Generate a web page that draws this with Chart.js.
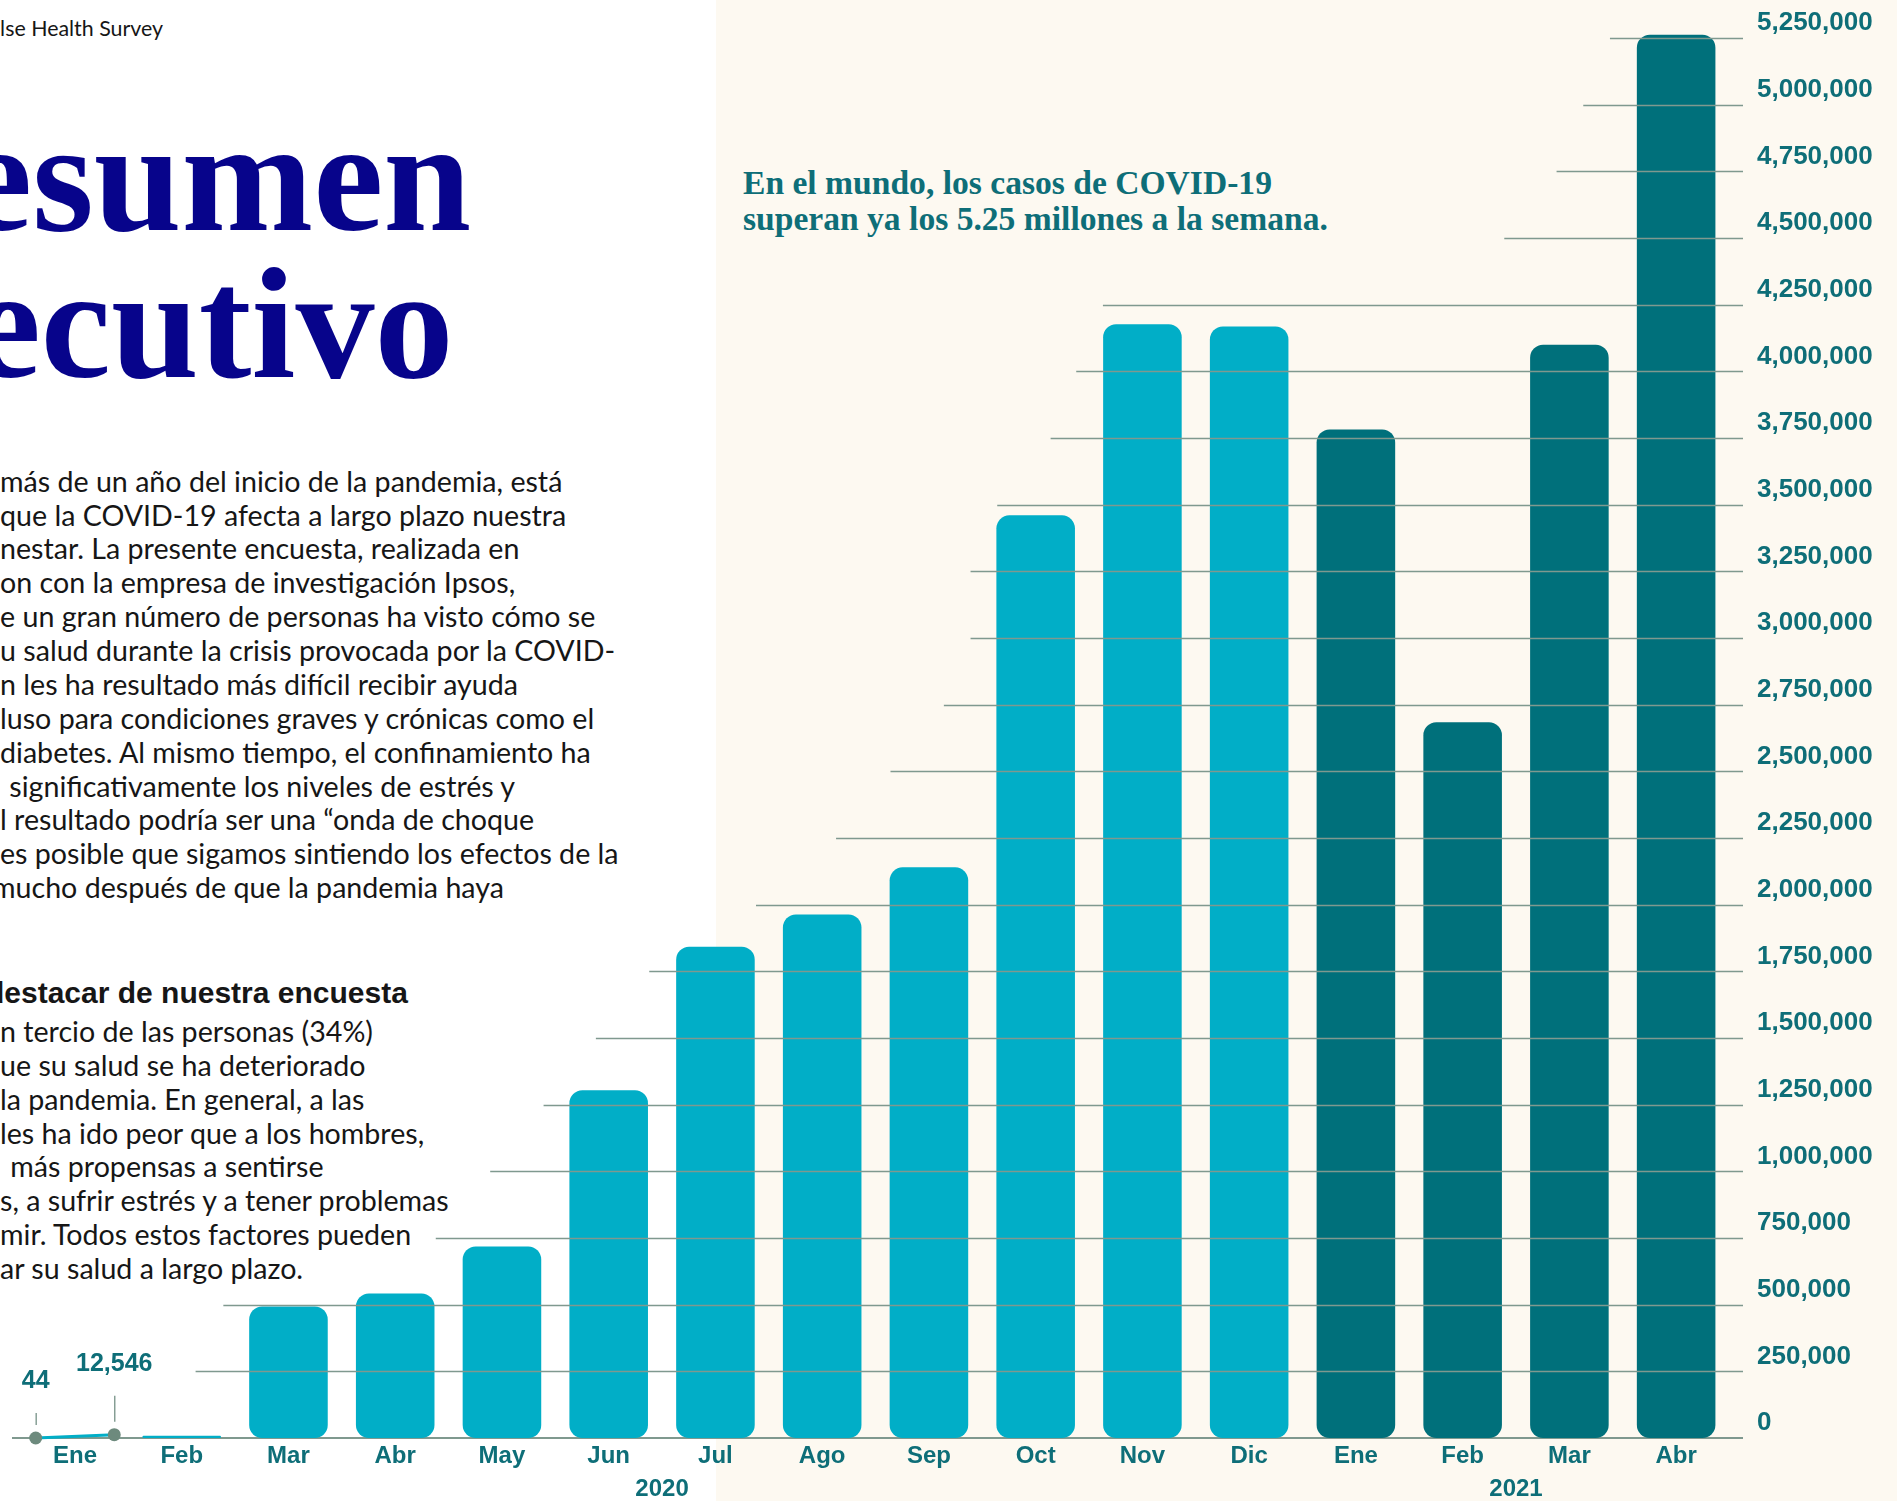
<!DOCTYPE html>
<html><head><meta charset="utf-8">
<script src="https://cdn.jsdelivr.net/npm/chart.js@4.4.1/dist/chart.umd.min.js"></script>
<style>
html,body{margin:0;padding:0;}
body{width:1897px;height:1501px;position:relative;overflow:hidden;background:#ffffff;}
#panel{position:absolute;left:716px;top:0;width:1181px;height:1501px;background:#FDF9F1;}
#texts{position:absolute;left:0;top:0;width:1897px;height:1501px;}
.t{position:absolute;white-space:nowrap;top:0;}
#wrap{position:absolute;left:0;top:0;width:1897px;height:1501px;}
</style></head><body>
<div id="panel"></div>
<div id="texts"></div>
<div id="wrap"><canvas id="c" width="1897" height="1501"></canvas></div>
<script>
// ---------------- DATA ----------------
const months = ['Ene','Feb','Mar','Abr','May','Jun','Jul','Ago','Sep','Oct','Nov','Dic','Ene','Feb','Mar','Abr'];
const years  = ['2020','2020','2020','2020','2020','2020','2020','2020','2020','2020','2020','2020','2021','2021','2021','2021'];
// weekly COVID-19 cases worldwide (January 2020 is shown as start/end values instead of a bar)
const weeklyCases = [null, 8000, 493000, 542000, 718000, 1304000, 1842000, 1963000, 2140000, 3460000, 4177000, 4168000, 3782000, 2684000, 4100000, 5262000];
const januaryStartEnd = [44, 12546];
const yTickValues = [0,250000,500000,750000,1000000,1250000,1500000,1750000,2000000,2250000,2500000,2750000,3000000,3250000,3500000,3750000,4000000,4250000,4500000,4750000,5000000,5250000];

// ---------------- STYLE ----------------
const teal = '#0E6E78';
const lightBar = '#01AEC7';
const darkBar = '#00707B';
const yearColor = {'2020': lightBar, '2021': darkBar};
const gridColor = '#7F998F';
const dotColor = '#6D8A7D';
const barPct = 0.736;
// where each horizontal guide line begins, in category-index units (decorative staircase)
const gridStartIdx = [-0.59,1.13,1.39,3.38,3.89,4.39,4.88,5.38,6.38,7.13,7.64,8.14,8.39,8.39,8.64,9.14,9.38,9.63,13.39,13.88,14.13,14.38];
const janTickLen = [12, 26];

// ---------------- TEXT ----------------
const para1 = [
 ['más de un año del inicio de la pandemia, está',0,562],
 ['que la COVID-19 afecta a largo plazo nuestra',0,548],
 ['nestar. La presente encuesta, realizada en',0,518],
 ['on con la empresa de investigación Ipsos,',0,509],
 ['e un gran número de personas ha visto cómo se',0,598],
 ['u salud durante la crisis provocada por la COVID-',0,602],
 ['n les ha resultado más difícil recibir ayuda',0,521],
 ['luso para condiciones graves y crónicas como el',0,602],
 ['diabetes. Al mismo tiempo, el confinamiento ha',0,595],
 ['\u00a0significativamente los niveles de estrés y',2,518],
 ['l resultado podría ser una “onda de choque',0,544],
 ['es posible que sigamos sintiendo los efectos de la',0,616],
 ['mucho después de que la pandemia haya',-8,500]
];
const para2 = [
 ['n tercio de las personas (34%)',0,376],
 ['ue su salud se ha deteriorado',0,365],
 ['la pandemia. En general, a las',0,371],
 ['les ha ido peor que a los hombres,',0,428],
 ['\u00a0más propensas a sentirse',3,328],
 ['s, a sufrir estrés y a tener problemas',0,449],
 ['mir. Todos estos factores pueden',0,416],
 ['ar su salud a largo plazo.',0,305]
];
const bodyFamily = 'Lato, "Noto Sans", sans-serif';
const holder = document.getElementById('texts');
const mctx = document.createElement('canvas').getContext('2d');
function textW(s, font){ mctx.font = font; return mctx.measureText(s).width; }
function addLine(text, left, baseline, style){
  const d = document.createElement('div');
  d.className = 't';
  d.textContent = text;
  Object.assign(d.style, style);
  d.style.left = left + 'px';
  holder.appendChild(d);
  const m = document.createElement('span');
  m.style.cssText = 'display:inline-block;width:0;height:0;';
  d.appendChild(m);
  d.style.top = (baseline - m.offsetTop) + 'px';
  return d;
}
let sumT = 0, sumW = 0;
[...para1, ...para2].forEach(([s,dx,r]) => { sumT += (r - dx); sumW += textW(s, '100px ' + bodyFamily); });
const bodySize = 100 * sumT / sumW;
const bodyStyle = {fontFamily: bodyFamily, fontSize: bodySize.toFixed(2)+'px', color:'#161616'};
para1.forEach(([s,dx], i) => addLine(s, dx, 491.7 + i*33.87, bodyStyle));
para2.forEach(([s,dx], i) => addLine(s, dx, 1042 + i*33.87, bodyStyle));
addLine('destacar de nuestra encuesta', -14, 1003, {fontFamily:'"Liberation Sans", Arial, sans-serif', fontWeight:'bold', fontSize:'30px', color:'#161616'});
const srcSize = 163 / textW('lse Health Survey', '1px ' + bodyFamily);
const srcW = textW('Pulse Health Survey', srcSize + 'px ' + bodyFamily);
addLine('Pulse Health Survey', 163 - srcW, 36, {fontFamily: bodyFamily, fontSize: srcSize.toFixed(2)+'px', color:'#161616'});
const titleStyle = {fontFamily:'"Liberation Serif", "Times New Roman", serif', fontWeight:'bold', fontSize:'158px', color:'#07048B'};
addLine('Resumen', -152, 230, titleStyle);
addLine('ejecutivo', -152, 377, titleStyle);
const noteStyle = {fontFamily:'"Liberation Serif", "Times New Roman", serif', fontWeight:'bold', fontSize:'33.6px', color:teal};
addLine('En el mundo, los casos de COVID-19', 743, 193.5, noteStyle);
addLine('superan ya los 5.25 millones a la semana.', 743, 229.5, noteStyle);

// ---------------- CHART ----------------
function hasFont(name){
  const s = 'MarAgoSepOct 2020';
  const a = textW(s, 'bold 50px monospace');
  const b = textW(s, 'bold 50px "' + name + '", monospace');
  return Math.abs(a-b) > 0.5;
}
const narrow = hasFont('Liberation Sans Narrow');
const xFont = narrow ? {family:'"Liberation Sans Narrow"', size:28, weight:'bold'} : {family:'"Liberation Sans", Arial', size:24, weight:'bold'};
const numFont = '"Liberation Sans", Arial, sans-serif';
const fmt = v => Number(v).toLocaleString('en-US');
const half = barPct / 2;

const decor = {
  id: 'decor',
  beforeDatasetsDraw(chart){
    const {ctx, chartArea:a, scales} = chart;
    const y0 = scales.y.getPixelForValue(0);
    ctx.save();
    ctx.strokeStyle = gridColor; ctx.lineWidth = 2;
    ctx.beginPath();
    ctx.moveTo(scales.x.getPixelForValue(gridStartIdx[0]), y0);
    ctx.lineTo(a.right + 13.5, y0);
    ctx.stroke();
    ctx.restore();
  },
  afterDatasetsDraw(chart){
    const {ctx, chartArea:a, scales} = chart;
    ctx.save();
    ctx.strokeStyle = gridColor; ctx.lineWidth = 1.4;
    yTickValues.forEach((v, k) => {
      if (k === 0) return;
      const py = Math.round(scales.y.getPixelForValue(v)) + 0.5;
      ctx.beginPath();
      ctx.moveTo(scales.x.getPixelForValue(gridStartIdx[k]), py);
      ctx.lineTo(a.right + 13.5, py);
      ctx.stroke();
    });
    const meta = chart.getDatasetMeta(1);
    ctx.font = 'bold 25px ' + numFont;
    ctx.fillStyle = teal; ctx.textAlign = 'center'; ctx.textBaseline = 'alphabetic';
    meta.data.forEach((pt, i) => {
      const top = pt.y - 13 - janTickLen[i];
      ctx.beginPath();
      ctx.moveTo(pt.x + 0.5, pt.y - 13);
      ctx.lineTo(pt.x + 0.5, top);
      ctx.stroke();
      ctx.fillText(fmt(januaryStartEnd[i]), pt.x, top - 25);
    });
    ctx.font = xFont.weight + ' ' + xFont.size + 'px ' + xFont.family;
    ctx.textBaseline = 'middle';
    [...new Set(years)].forEach(yr => {
      const idx = years.map((v,i)=>v===yr?i:null).filter(v=>v!==null);
      const mid = idx.reduce((s,v)=>s+v,0) / idx.length;
      ctx.fillText(yr, scales.x.getPixelForValue(mid), a.bottom + 51);
    });
    ctx.restore();
  }
};

new Chart(document.getElementById('c'), {
  type: 'bar',
  data: {
    labels: months,
    datasets: [
      {
        type: 'bar',
        data: weeklyCases,
        backgroundColor: years.map(y => yearColor[y]),
        borderRadius: 13,
        borderSkipped: false,
        barPercentage: barPct,
        categoryPercentage: 1,
        grouped: false,
        clip: false,
        xAxisID: 'x', yAxisID: 'y',
        order: 2
      },
      {
        type: 'line',
        parsing: false,
        data: januaryStartEnd.map((v, i) => ({x: i === 0 ? -half : half, y: v})),
        borderColor: lightBar,
        borderWidth: 3,
        pointRadius: 6.5,
        pointBackgroundColor: dotColor,
        pointBorderWidth: 0,
        clip: false,
        xAxisID: 'x', yAxisID: 'y',
        order: 1
      }
    ]
  },
  options: {
    responsive: false,
    animation: false,
    devicePixelRatio: 1,
    layout: {padding: {top: 38, left: 21.6, right: 0, bottom: 0}},
    plugins: {legend: {display: false}, tooltip: {enabled: false}},
    scales: {
      x: {
        type: 'category', offset: true,
        grid: {display: false, drawTicks: false},
        border: {display: false},
        ticks: {color: teal, font: xFont, padding: 4, maxRotation: 0, autoSkip: false},
        afterFit(s){ s.height = 63; }
      },
      y: {
        position: 'right', min: 0, max: yTickValues[yTickValues.length-1],
        grid: {display: false, drawTicks: false},
        border: {display: false},
        afterBuildTicks(s){ s.ticks = yTickValues.map(v => ({value: v})); },
        ticks: {color: teal, font: {family: numFont, size: 26, weight: 'bold', lineHeight: 0.6}, padding: 27.5, labelOffset: -15, callback: v => fmt(v)},
        afterFit(s){ s.width = 167.5; }
      }
    }
  },
  plugins: [decor]
});
</script>
</body></html>
